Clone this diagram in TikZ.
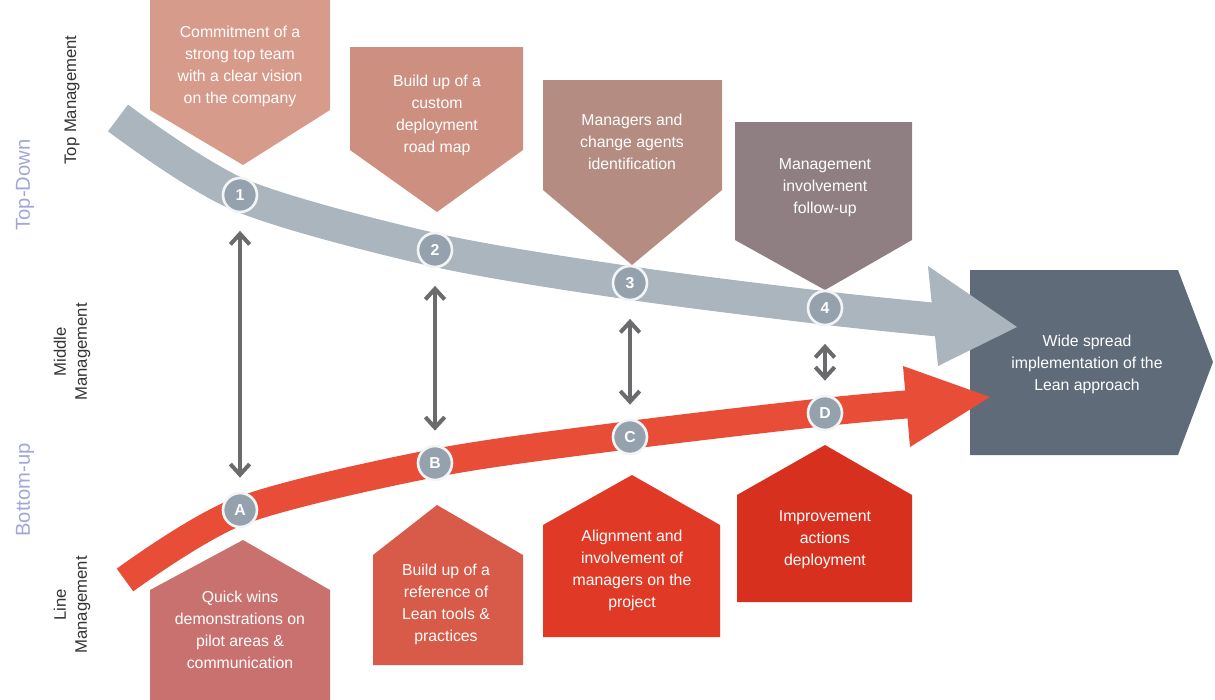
\documentclass[tikz,border=0pt]{standalone}
\usepackage{fontspec}
\setmainfont{Liberation Sans}
\usetikzlibrary{arrows.meta}
\definecolor{topA}{HTML}{D79B8C}
\definecolor{topB}{HTML}{CD8F80}
\definecolor{topC}{HTML}{B48C82}
\definecolor{topD}{HTML}{8F7F82}
\definecolor{botA}{HTML}{C8716F}
\definecolor{botB}{HTML}{D85A48}
\definecolor{botC}{HTML}{E03A27}
\definecolor{botD}{HTML}{D8301F}
\definecolor{finalbox}{HTML}{5F6B79}
\definecolor{grayarrow}{HTML}{AAB5BD}
\definecolor{redarrow}{HTML}{E84E37}
\definecolor{linkgray}{HTML}{6B6B6D}
\definecolor{tdcol}{HTML}{A3A6D6}
\definecolor{badgecol}{HTML}{95A1AD}
\begin{document}
\begin{tikzpicture}[x=0.02cm,y=-0.02cm,line join=round,line cap=round,
	>={Straight Barb[length=6pt,width=11pt]},
	boxtxt/.style={align=center,text=white,font=\fontsize{9}{12.5}\selectfont,inner sep=0pt},
	side/.style={rotate=90,align=center,text=black!80,font=\fontsize{9.5}{12}\selectfont,inner sep=0pt},
	mode/.style={rotate=90,text=tdcol,font=\fontsize{11.5}{13}\selectfont,inner sep=0pt},
	badge/.style={circle,minimum size=0.68cm,inner sep=0pt,fill=badgecol,draw=white!85!grayarrow,line width=1.5pt,text=white,font=\bfseries\small},
	link/.style={<->,draw=linkgray,line width=2.3pt,line cap=butt,shorten <=10pt,shorten >=8pt}]
	\useasboundingbox (0,0) rectangle (1215,700);
	\fill[finalbox] (970,270)--(1178,270)--(1213,362)--(1178,455)--(970,455)--cycle;
	\node[boxtxt] (goal) at (1087,364) {Wide spread\\implementation of the\\Lean approach};
	\draw[redarrow,line width=16pt,line cap=butt] plot[smooth] coordinates {(125,580) (240,511) (435,463) (630,435) (825,412) (912,404)};
	\fill[redarrow] (903,366)--(990,397)--(910,447)--cycle;
	\draw[grayarrow,line width=19pt,line cap=butt] plot[smooth] coordinates {(118,118) (240,195) (435,250) (630,283) (825,308) (940,320)};
	\fill[grayarrow] (928,266)--(1017,327)--(938,366)--cycle;
	\fill[topA] (150,-5)--(330,-5)--(330,110)--(243,165)--(150,110)--cycle;
	\node[boxtxt] (t1) at (240,66) {Commitment of a\\strong top team\\with a clear vision\\on the company};
	\fill[topB] (350,47)--(523,47)--(523,150)--(437,212)--(350,150)--cycle;
	\node[boxtxt] (t2) at (437,115) {Build up of a\\custom\\deployment\\road map};
	\fill[topC] (543,80)--(722,80)--(722,190)--(632,265)--(543,190)--cycle;
	\node[boxtxt] (t3) at (632,142) {Managers and\\change agents\\identification};
	\fill[topD] (735,122)--(912,122)--(912,240)--(825,290)--(735,240)--cycle;
	\node[boxtxt] (t4) at (825,188) {Management\\involvement\\follow-up};
	\fill[botA] (150,590)--(243,540)--(330,590)--(330,700)--(150,700)--cycle;
	\node[boxtxt] (b1) at (240,630) {Quick wins\\demonstrations on\\pilot areas \&\\communication};
	\fill[botB] (373,555)--(437,505)--(523,555)--(523,665)--(373,665)--cycle;
	\node[boxtxt] (b2) at (446,604) {Build up of a\\reference of\\Lean tools \&\\practices};
	\fill[botC] (543,525)--(632,475)--(720,525)--(720,637)--(543,637)--cycle;
	\node[boxtxt] (b3) at (632,570) {Alignment and\\involvement of\\managers on the\\project};
	\fill[botD] (737,495)--(825,445)--(912,495)--(912,602)--(737,602)--cycle;
	\node[boxtxt] (b4) at (825,540) {Improvement\\actions\\deployment};
	\node[badge] (n1) at (240,195) {1};
	\node[badge] (n2) at (435,250) {2};
	\node[badge] (n3) at (630,283) {3};
	\node[badge] (n4) at (825,308) {4};
	\node[badge] (l1) at (240,510) {A};
	\node[badge] (l2) at (435,463) {B};
	\node[badge] (l3) at (630,437) {C};
	\node[badge] (l4) at (825,413) {D};
	\draw[link] (n1)--(l1);
	\draw[link] (n2)--(l2);
	\draw[link] (n3)--(l3);
	\draw[link] (n4)--(l4);
	\node[mode] (td) at (25,185) {Top-Down};
	\node[mode] (bu) at (25,490) {Bottom-up};
	\node[side] (tm) at (72,100) {Top Management};
	\node[side] (mm) at (72,352) {Middle\\Management};
	\node[side] (lm) at (72,605) {Line\\Management};
\end{tikzpicture}
\end{document}
